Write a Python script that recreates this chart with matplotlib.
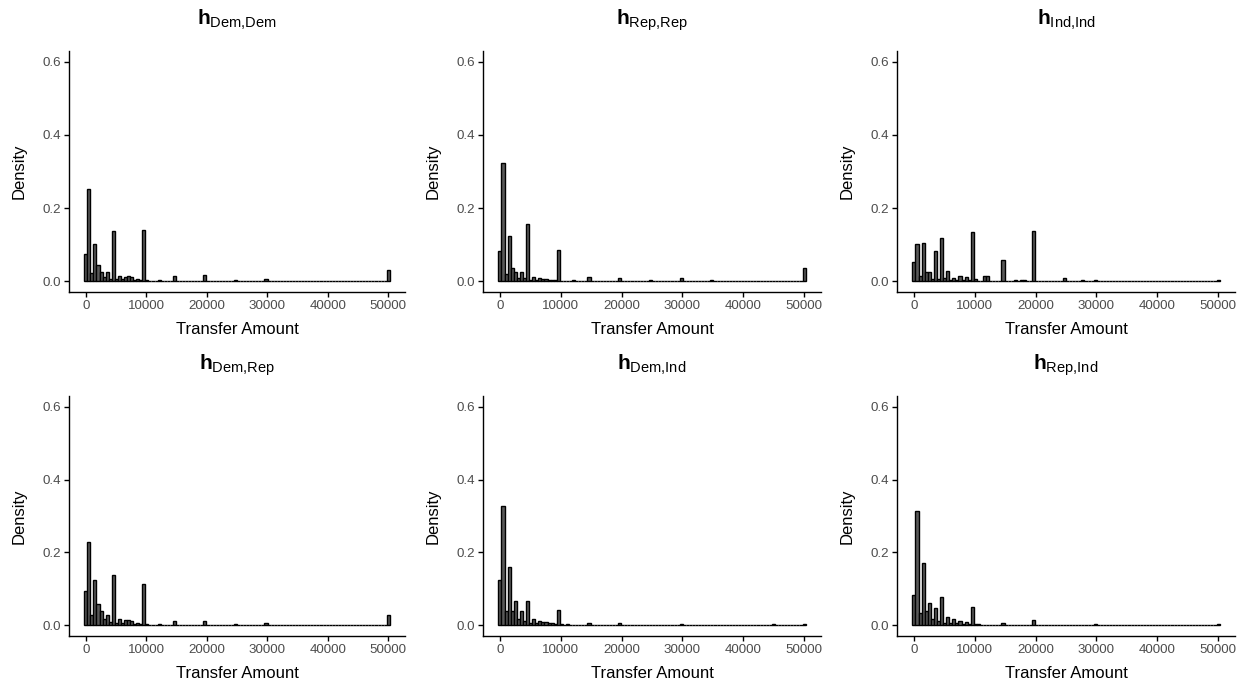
import numpy as np
import matplotlib
matplotlib.use("Agg")
import matplotlib.pyplot as plt

plt.rcParams['font.family'] = ['Liberation Sans', 'DejaVu Sans']
plt.rcParams['mathtext.fontset'] = 'custom'
plt.rcParams['mathtext.rm'] = 'Liberation Sans'
plt.rcParams['mathtext.bf'] = 'Liberation Sans:bold'

# 100 bins from 0 to 50000 (bin centres), share of transfers per bin
n_bins = 100
max_amount = 50000

pairs = ["Dem,Dem", "Rep,Rep", "Ind,Ind", "Dem,Rep", "Dem,Ind", "Rep,Ind"]

# first 21 bins (0 .. ~10100)
dem_dem_head = [0.075, 0.251, 0.021, 0.102, 0.044, 0.024, 0.010, 0.024, 0.005, 0.138, 0.005,
                0.015, 0.005, 0.011, 0.015, 0.010, 0.004, 0.006, 0.003, 0.141, 0.002]
rep_rep_head = [0.083, 0.323, 0.018, 0.122, 0.035, 0.024, 0.007, 0.024, 0.009, 0.155, 0.003,
                0.011, 0.004, 0.008, 0.006, 0.005, 0.002, 0.002, 0.002, 0.086, 0.001]
ind_ind_head = [0.052, 0.102, 0.013, 0.105, 0.026, 0.026, 0.006, 0.083, 0.006, 0.117, 0.009,
                0.027, 0.004, 0.008, 0.002, 0.015, 0.002, 0.012, 0.002, 0.135, 0.005]
dem_rep_head = [0.094, 0.229, 0.027, 0.124, 0.059, 0.038, 0.017, 0.029, 0.009, 0.139, 0.006,
                0.017, 0.007, 0.013, 0.015, 0.010, 0.004, 0.006, 0.003, 0.114, 0.002]
dem_ind_head = [0.124, 0.328, 0.038, 0.159, 0.040, 0.065, 0.017, 0.038, 0.010, 0.065, 0.006,
                0.017, 0.007, 0.012, 0.009, 0.008, 0.007, 0.007, 0.003, 0.042, 0.002]
rep_ind_head = [0.083, 0.315, 0.034, 0.170, 0.040, 0.061, 0.016, 0.046, 0.011, 0.077, 0.006,
                0.021, 0.006, 0.016, 0.005, 0.010, 0.004, 0.008, 0.002, 0.049, 0.003]

# remaining non-empty bins: bin index -> share
dem_dem_tail = {24: 0.002, 29: 0.013, 39: 0.016, 49: 0.002, 59: 0.005, 99: 0.030}
rep_rep_tail = {24: 0.003, 29: 0.010, 39: 0.007, 49: 0.003, 59: 0.007, 69: 0.002, 99: 0.037}
ind_ind_tail = {23: 0.013, 24: 0.013, 29: 0.058, 33: 0.002, 35: 0.004, 36: 0.004, 39: 0.138,
                49: 0.007, 55: 0.002, 59: 0.002, 99: 0.002}
dem_rep_tail = {24: 0.002, 29: 0.010, 39: 0.010, 49: 0.002, 59: 0.006, 99: 0.027}
dem_ind_tail = {22: 0.002, 29: 0.005, 39: 0.007, 59: 0.003, 89: 0.002, 99: 0.004}
rep_ind_tail = {21: 0.003, 29: 0.007, 39: 0.013, 59: 0.002, 99: 0.003}

heads = [dem_dem_head, rep_rep_head, ind_ind_head, dem_rep_head, dem_ind_head, rep_ind_head]
tails = [dem_dem_tail, rep_rep_tail, ind_ind_tail, dem_rep_tail, dem_ind_tail, rep_ind_tail]

bin_width = max_amount / (n_bins - 1)
centers = np.arange(n_bins) * bin_width

W, H = 1242, 681
fig = plt.figure(figsize=(W / 100, H / 100), dpi=100)

# panel boxes in pixels: left, top, width, height
col_left = [69, 483, 897]
col_width = [336, 338, 338]
row_top = [51, 396]
row_height = [241, 240]

pad = 0.05 * (max_amount + bin_width)
xlim = (-bin_width / 2 - pad, max_amount + bin_width / 2 + pad)

for i, pair in enumerate(pairs):
    r, c = divmod(i, 3)
    left, top = col_left[c], row_top[r]
    w, h = col_width[c], row_height[r]
    ax = fig.add_axes([left / W, 1 - (top + h) / H, w / W, h / H])

    dens = np.zeros(n_bins)
    dens[:len(heads[i])] = heads[i]
    for k, v in tails[i].items():
        dens[k] = v

    ax.bar(centers, dens, width=bin_width, color='#595959', edgecolor='black',
           linewidth=1.0, align='center')

    ax.set_xlim(xlim)
    ax.set_ylim(-0.03, 0.63)
    ax.set_xticks([0, 10000, 20000, 30000, 40000, 50000])
    ax.set_yticks([0.0, 0.2, 0.4, 0.6])
    ax.set_yticklabels(['0.0', '0.2', '0.4', '0.6'])
    for s in ['top', 'right']:
        ax.spines[s].set_visible(False)
    for s in ['left', 'bottom']:
        ax.spines[s].set_linewidth(1.0)
    ax.tick_params(axis='both', length=3.8, width=1.0, color='black',
                   labelsize=9.6, labelcolor='#4D4D4D', pad=2)
    ax.set_xlabel('Transfer Amount', fontsize=12, labelpad=7)
    ax.set_ylabel('Density', fontsize=12, labelpad=11)

    name = pair.replace(',', '{,}')
    fig.text((left + w / 2) / W, 1 - (top - 31) / H,
             r'$\mathbf{h}_{\mathrm{' + name + '}}$',
             ha='center', va='center', fontsize=15)

fig.savefig('out.png', dpi=100)
